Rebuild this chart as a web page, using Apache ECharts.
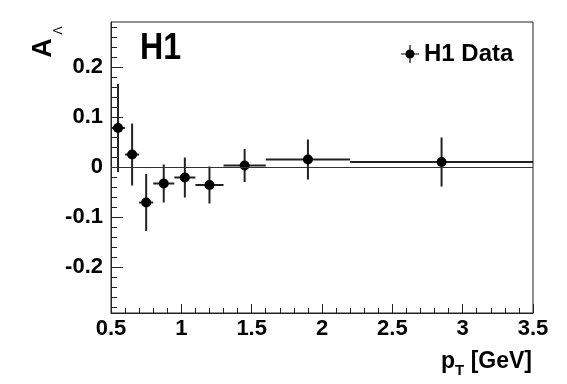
<!DOCTYPE html>
<html>
<head>
<meta charset="utf-8">
<script src="https://cdn.jsdelivr.net/npm/echarts@6/dist/echarts.min.js"></script>
<style>
html,body{margin:0;padding:0;background:#fff;}
#chart{width:567px;height:384px;}
</style>
</head>
<body>
<div id="chart"></div>
<script>
// Data
var xCenters = [0.55, 0.65, 0.75, 0.875, 1.025, 1.2, 1.45, 1.9, 2.85];
var xLow     = [0.5, 0.6, 0.7, 0.8, 0.95, 1.1, 1.3, 1.6, 2.2];
var xHigh    = [0.6, 0.7, 0.8, 0.95, 1.1, 1.3, 1.6, 2.2, 3.5];
var yValues  = [0.078, 0.025, -0.071, -0.033, -0.021, -0.036, 0.003, 0.015, 0.010];
var yErrors  = [0.088, 0.062, 0.057, 0.038, 0.040, 0.037, 0.033, 0.040, 0.049];
var yMajorTicks = [-0.2, -0.1, 0, 0.1, 0.2];
var yMinorTicks = [-0.28, -0.26, -0.24, -0.22, -0.18, -0.16, -0.14, -0.12,
                   -0.08, -0.06, -0.04, -0.02, 0.02, 0.04, 0.06, 0.08,
                   0.12, 0.14, 0.16, 0.18, 0.22, 0.24, 0.26, 0.28];
var seriesName = 'H1 Data';

var FONT = '"Liberation Sans", Arial, Helvetica, sans-serif';
var pointData = xCenters.map(function (x, i) { return [x, yValues[i]]; });
var errData = xCenters.map(function (x, i) {
  return [x, yValues[i], xLow[i], xHigh[i], yValues[i] - yErrors[i], yValues[i] + yErrors[i]];
});

var chart = echarts.init(document.getElementById('chart'), null, {renderer: 'canvas'});
var yRange = {min: -0.292, max: 0.29};

chart.setOption({
  backgroundColor: '#ffffff',
  animation: false,
  grid: {left: 111, right: 34, top: 22, bottom: 71, show: true, borderColor: '#222', borderWidth: 1, backgroundColor: 'transparent'},
  legend: {
    show: true,
    left: 396, top: 37,
    itemWidth: 18, itemHeight: 18, itemGap: 0,
    data: [{name: seriesName, icon: 'path://M0,8.4H18V9.6H0Z M8.4,0H9.6V18H8.4Z M4.5,9A4.5,4.5 0 1,1 13.5,9A4.5,4.5 0 1,1 4.5,9Z'}],
    textStyle: {fontFamily: FONT, fontWeight: 'bold', fontSize: 24, color: '#000'},
    itemStyle: {color: '#000'}
  },
  xAxis: {
    type: 'value', min: 0.5, max: 3.5, interval: 0.5,
    axisLine: {show: true, onZero: false, lineStyle: {color: '#222', width: 1}},
    axisTick: {show: true, inside: true, length: 9, lineStyle: {color: '#222', width: 1}},
    minorTick: {show: true, splitNumber: 5, length: 5, lineStyle: {color: '#222', width: 1}},
    splitLine: {show: false},
    axisLabel: {
      margin: 5, fontFamily: FONT, fontWeight: 'bold', fontSize: 22, color: '#000'
    }
  },
  yAxis: [{
    type: 'value', min: yRange.min, max: yRange.max,
    axisLine: {show: true, onZero: false, lineStyle: {color: '#222', width: 1}},
    axisTick: {show: true, inside: true, length: 12, customValues: yMajorTicks, lineStyle: {color: '#222', width: 1}},
    splitLine: {show: false},
    axisLabel: {
      margin: 8, fontFamily: FONT, fontWeight: 'bold', fontSize: 22, color: '#000',
      customValues: yMajorTicks,
      formatter: function (v) { return String(Math.round(v * 10) / 10); }
    }
  }, {
    type: 'value', min: yRange.min, max: yRange.max, position: 'left',
    axisLine: {show: false},
    axisTick: {show: true, inside: true, length: 6, customValues: yMinorTicks, lineStyle: {color: '#222', width: 1}},
    splitLine: {show: false},
    axisLabel: {show: false}
  }],
  graphic: [
    {
      type: 'text', x: 140, y: 49, scaleX: 0.87,
      style: {text: 'H1', fontFamily: FONT, fontWeight: 'bold', fontSize: 37, fill: '#000', align: 'left', verticalAlign: 'middle'}
    },
    {
      type: 'text', x: 532, y: 345,
      style: {
        text: '{a|p}{s|T}{a| [GeV]}', align: 'right', verticalAlign: 'top',
        rich: {
          a: {fontFamily: FONT, fontWeight: 'bold', fontSize: 23, fill: '#000', color: '#000'},
          s: {fontFamily: FONT, fontWeight: 'bold', fontSize: 15, fill: '#000', color: '#000', padding: [18, 0, 0, 0]}
        }
      }
    },
    {
      type: 'text', x: 44, y: 48, rotation: Math.PI / 2,
      style: {text: 'A', fontFamily: FONT, fontWeight: 'bold', fontSize: 27, fill: '#000', align: 'center', verticalAlign: 'middle'}
    },
    {
      type: 'text', x: 59, y: 30.5, rotation: Math.PI / 2,
      style: {text: 'Λ', fontFamily: FONT, fontWeight: 'normal', fontSize: 12, fill: '#000', align: 'center', verticalAlign: 'middle'}
    }
  ],
  series: [
    {
      name: 'errors', type: 'custom', data: errData, clip: true, z: 2,
      renderItem: function (params, api) {
        var yc = api.value(1);
        var left = api.coord([api.value(2), yc]);
        var right = api.coord([api.value(3), yc]);
        var lo = api.coord([api.value(0), api.value(4)]);
        var hi = api.coord([api.value(0), api.value(5)]);
        var st = {stroke: '#222', lineWidth: 2};
        return {
          type: 'group',
          children: [
            {type: 'line', shape: {x1: left[0], y1: left[1], x2: right[0], y2: right[1]}, style: st},
            {type: 'line', shape: {x1: lo[0], y1: lo[1], x2: hi[0], y2: hi[1]}, style: st}
          ]
        };
      },
      markLine: {
        silent: true, symbol: 'none', label: {show: false},
        lineStyle: {color: '#333', width: 1, type: 'solid'},
        data: [{yAxis: 0}]
      }
    },
    {
      name: seriesName, type: 'scatter', data: pointData, symbol: 'circle', symbolSize: 10, z: 3,
      itemStyle: {color: '#000', opacity: 1}
    }
  ]
});
</script>
</body>
</html>
